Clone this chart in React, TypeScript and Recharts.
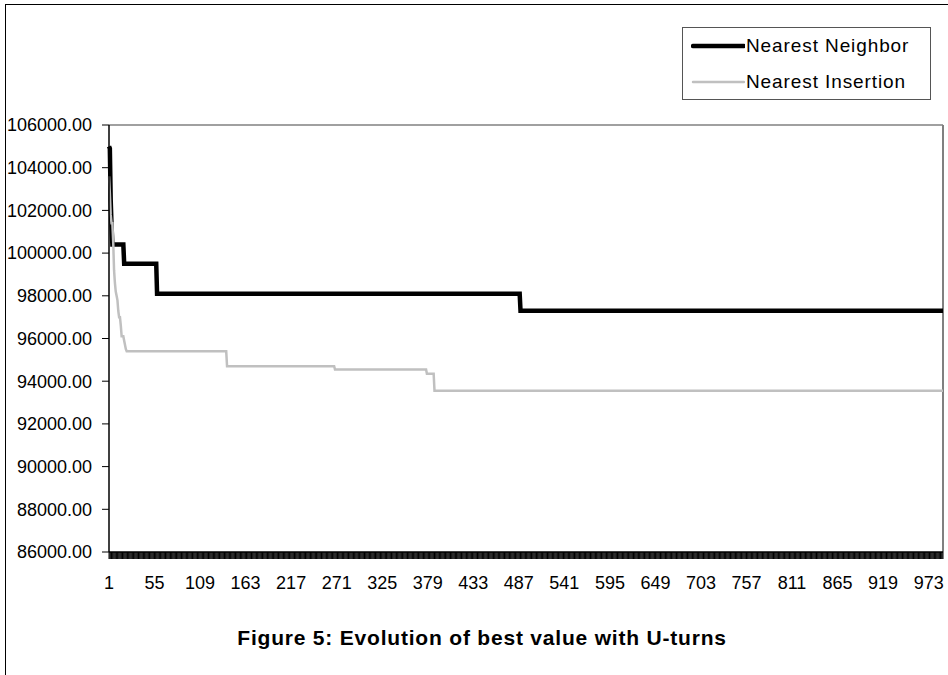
import React from "react";
import { LineChart, Line, XAxis, YAxis, Legend, ReferenceLine } from "recharts";

// iterations on the x axis
const iterationCount = 990;
const iterations = Array.from({ length: iterationCount }, (_, i) => i + 1);
const xLabels = [1, 55, 109, 163, 217, 271, 325, 379, 433, 487, 541, 595, 649, 703, 757, 811, 865, 919, 973];
const yTicks = [86000, 88000, 90000, 92000, 94000, 96000, 98000, 100000, 102000, 104000, 106000];

// best value: iteration where it changes -> new value
const nnChangeAt = [1, 2, 3, 4, 5, 19, 58, 489];
const nnValues = [105000, 104900, 102500, 101300, 100400, 99500, 98100, 97300];

const niChangeAt = [1, 2, 3, 4, 6, 7, 8, 9, 10, 11, 12, 13, 15, 16, 19, 20, 21, 22, 141, 269, 378, 387];
const niValues = [103600, 102800, 101800, 101400, 100500, 99200, 98600, 98200, 98000, 97800, 97300, 97000, 96600, 96100, 95900, 95700, 95500, 95400, 94700, 94550, 94350, 93550];

function valueAt(changeAt: number[], values: number[], n: number) {
  let v = values[0];
  for (let i = 0; i < changeAt.length; i++) {
    if (changeAt[i] <= n) v = values[i];
  }
  return v;
}

const chartData = iterations.map((n) => ({
  n,
  nn: valueAt(nnChangeAt, nnValues, n),
  ni: valueAt(niChangeAt, niValues, n),
}));

const FONT = "'Liberation Sans', Arial, sans-serif";

function XTick(props: any) {
  const { x, y, payload } = props;
  if (!xLabels.includes(payload.value)) return <g />;
  return (
    <text x={x} y={y} dy={28} textAnchor="middle" fontSize={18} fill="#000" fontFamily={FONT}>
      {payload.value}
    </text>
  );
}

function LegendBox() {
  const items = [
    { name: "Nearest Neighbor", color: "#000000", width: 4.5 },
    { name: "Nearest Insertion", color: "#c0c0c0", width: 2.5 },
  ];
  return (
    <div
      style={{
        width: 249,
        height: 73,
        border: "1px solid #555",
        background: "#fff",
        fontFamily: FONT,
        fontSize: 19,
        letterSpacing: 0.9,
        color: "#000",
        boxSizing: "border-box",
        paddingTop: 3,
      }}
    >
      {items.map((it) => (
        <div key={it.name} style={{ display: "flex", alignItems: "center", height: 29, marginBottom: 7.5 }}>
          <svg width={54} height={10} style={{ marginLeft: 8 }}>
            <line x1={2} y1={5} x2={53} y2={5} stroke={it.color} strokeWidth={it.width} strokeLinecap="round" />
          </svg>
          <span style={{ marginLeft: 1 }}>{it.name}</span>
        </div>
      ))}
    </div>
  );
}

export default function App() {
  return (
    <div style={{ position: "absolute", left: 0, top: 0, width: 948, height: 675, overflow: "hidden", background: "#fff" }}>
      <div
        style={{
          position: "absolute",
          left: 5,
          top: 4,
          width: 2000,
          height: 2000,
          border: "1.5px solid #000",
        }}
      />
      <div style={{ position: "absolute", left: 0, top: 0 }}>
        <LineChart
          width={948}
          height={675}
          data={chartData}
          margin={{ top: 125, right: 5, bottom: 83, left: 9 }}
        >
          <XAxis
            dataKey="n"
            type="number"
            domain={[1, iterationCount]}
            ticks={iterations}
            interval={0}
            tickSize={7}
            height={40}
            axisLine={{ stroke: "#000", strokeWidth: 1.5 }}
            tickLine={{ stroke: "#000" }}
            tick={<XTick />}
          />
          <YAxis
            domain={[86000, 106000]}
            ticks={yTicks}
            interval={0}
            width={100}
            tickSize={7}
            tickMargin={10}
            tickFormatter={(v: number) => v.toFixed(2)}
            axisLine={{ stroke: "#000", strokeWidth: 1.5 }}
            tickLine={{ stroke: "#000" }}
            tick={{ fill: "#000", fontSize: 18, fontFamily: FONT }}
          />
          <ReferenceLine y={106000} stroke="#808080" strokeWidth={1.5} />
          <ReferenceLine x={iterationCount} stroke="#808080" strokeWidth={2} />
          <Legend
            layout="vertical"
            align="center"
            verticalAlign="middle"
            content={<LegendBox />}
            wrapperStyle={{ left: 682, top: 27, width: 249, height: 73 }}
          />
          <Line
            dataKey="nn"
            name="Nearest Neighbor"
            type="linear"
            stroke="#000"
            strokeWidth={4.5}
            dot={false}
            isAnimationActive={false}
          />
          <Line
            dataKey="ni"
            name="Nearest Insertion"
            type="linear"
            stroke="#c0c0c0"
            strokeWidth={2.5}
            dot={false}
            isAnimationActive={false}
          />
        </LineChart>
      </div>
      <div
        style={{
          position: "absolute",
          left: 0,
          width: 964,
          top: 626,
          textAlign: "center",
          fontFamily: FONT,
          fontWeight: "bold",
          fontSize: 21,
          letterSpacing: 0.8,
          color: "#000",
        }}
      >
        Figure 5: Evolution of best value with U-turns
      </div>
    </div>
  );
}
